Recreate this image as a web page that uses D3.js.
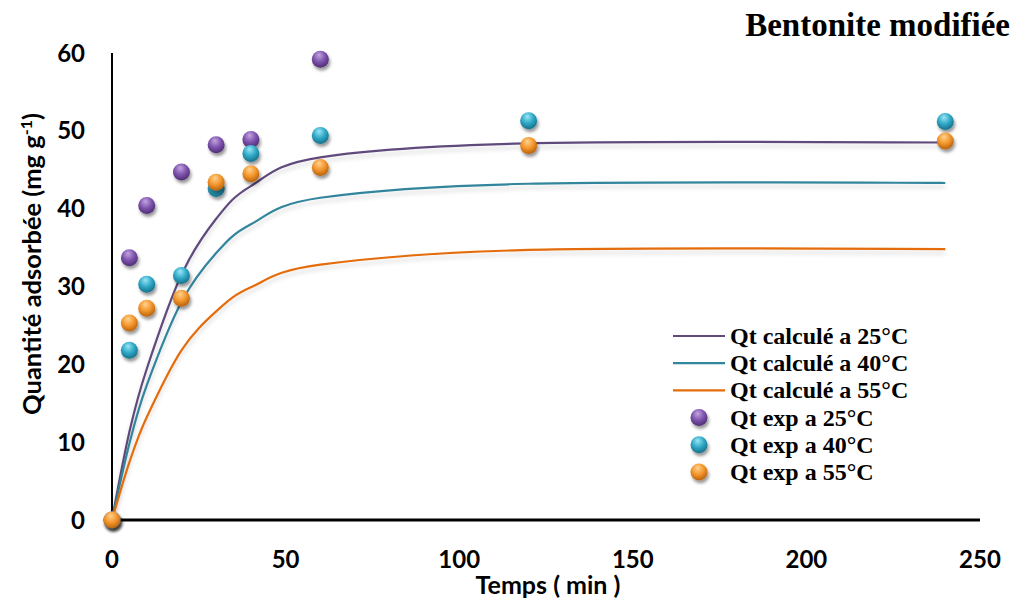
<!DOCTYPE html>
<html>
<head>
<meta charset="utf-8">
<script src="https://cdn.jsdelivr.net/npm/d3@7"></script>
<style>
  body { margin: 0; background: #fff; }
  svg { display: block; }
  .tick-label { font-family: Lato, "Open Sans", sans-serif; font-weight: 700; font-size: 24px; fill: #000; }
  .axis-title { font-family: Lato, "Open Sans", sans-serif; font-weight: 700; font-size: 25.5px; fill: #000; }
  .legend-text { font-family: "Liberation Serif", "Times New Roman", serif; font-weight: 700; font-size: 24px; fill: #000; }
  .title { font-family: "Liberation Serif", "Times New Roman", serif; font-weight: 700; font-size: 33px; fill: #000; }
</style>
</head>
<body>
<div id="chart"></div>
<script>
// data
const times = [0, 5, 10, 20, 30, 40, 60, 120, 240];

// calculated curves
const calc25 = [0, 11.3, 19.4, 31.5, 38.7, 42.9, 46.6, 48.4, 48.5];
const calc40 = [0, 9.8, 17.3, 28.0, 34.3, 38.0, 41.4, 43.2, 43.3];
const calc55 = [0, 7.4, 13.2, 21.8, 26.8, 29.9, 32.8, 34.7, 34.8];

// experimental points (null = not visible)
const exp25 = [0, 33.7, 40.4, 44.7, 48.2, 48.9, 59.2, null, null];
const exp40 = [0, 21.8, 30.3, 31.4, 42.6, 47.1, 49.4, 51.3, 51.2];
const exp55 = [0, 25.3, 27.2, 28.5, 43.4, 44.5, 45.3, 48.1, 48.7];

const xTicks = [0, 50, 100, 150, 200, 250];
const yTicks = [0, 10, 20, 30, 40, 50, 60];

const lineSeries = [
  { name: "Qt calculé a 25°C", values: calc25, color: "#604A7B" },
  { name: "Qt calculé a 40°C", values: calc40, color: "#31859C" },
  { name: "Qt calculé a 55°C", values: calc55, color: "#E46C0A" },
];
const pointSeries = [
  { name: "Qt exp a 25°C", values: exp25, id: "ball25", light: "#c3a6e0", base: "#7e53ad", dark: "#4e2d74" },
  { name: "Qt exp a 40°C", values: exp40, id: "ball40", light: "#9ae6f6", base: "#2fa8c6", dark: "#17708a" },
  { name: "Qt exp a 55°C", values: exp55, id: "ball55", light: "#ffd391", base: "#f3962c", dark: "#b8620e" },
];

////////////////////////////  Init  ///////////////////////////////
const width = 1015;
const height = 601;
const margin = { top: 53, right: 35, bottom: 81, left: 112 };

const svg = d3.select("#chart").append("svg")
  .attr("width", width)
  .attr("height", height);

const defs = svg.append("defs");

// shadows
const ballShadow = defs.append("filter").attr("id", "ballShadow")
  .attr("x", "-50%").attr("y", "-50%").attr("width", "200%").attr("height", "200%");
ballShadow.append("feDropShadow")
  .attr("dx", 1.5).attr("dy", 3).attr("stdDeviation", 1.8)
  .attr("flood-color", "#000").attr("flood-opacity", 0.4);

const lineShadow = defs.append("filter").attr("id", "lineShadow")
  .attr("x", "-5%").attr("y", "-20%").attr("width", "110%").attr("height", "140%");
lineShadow.append("feDropShadow")
  .attr("dx", 0).attr("dy", 4).attr("stdDeviation", 2)
  .attr("flood-color", "#000").attr("flood-opacity", 0.15);

// 3d ball gradients
pointSeries.forEach((s) => {
  const grad = defs.append("radialGradient").attr("id", s.id)
    .attr("cx", "45%").attr("cy", "35%").attr("r", "65%")
    .attr("fx", "42%").attr("fy", "25%");
  grad.append("stop").attr("offset", "0%").attr("stop-color", s.light);
  grad.append("stop").attr("offset", "55%").attr("stop-color", s.base);
  grad.append("stop").attr("offset", "100%").attr("stop-color", s.dark);
});

// scales
const x = d3.scaleLinear().domain([0, 250]).range([margin.left, width - margin.right]);
const y = d3.scaleLinear().domain([0, 60]).range([height - margin.bottom, margin.top]);

//axis lines
svg.append("line")
  .attr("x1", x(0)).attr("x2", x(0))
  .attr("y1", y(60)).attr("y2", y(0))
  .attr("stroke", "#000").attr("stroke-width", 2);

svg.append("line")
  .attr("x1", x(0) - 1).attr("x2", x(250))
  .attr("y1", y(0)).attr("y2", y(0))
  .attr("stroke", "#000").attr("stroke-width", 3);

// tick labels
svg.selectAll(".ytick")
  .data(yTicks)
  .enter()
  .append("text")
  .attr("class", "tick-label")
  .attr("x", 85)
  .attr("y", (d) => y(d))
  .attr("dy", "0.36em")
  .attr("text-anchor", "end")
  .text((d) => d);

svg.selectAll(".xtick")
  .data(xTicks)
  .enter()
  .append("text")
  .attr("class", "tick-label")
  .attr("x", (d) => x(d))
  .attr("y", 568)
  .attr("text-anchor", "middle")
  .text((d) => d);

// axis titles
svg.append("text")
  .attr("class", "axis-title")
  .attr("x", 548)
  .attr("y", 594)
  .attr("text-anchor", "middle")
  .style("font-size", "25px")
  .text("Temps ( min )");

const yTitle = svg.append("text")
  .attr("class", "axis-title")
  .attr("transform", "translate(41, 264) rotate(-90)")
  .attr("text-anchor", "middle");
yTitle.append("tspan").text("Quantité adsorbée (mg g");
yTitle.append("tspan").attr("dy", -9).attr("font-size", 16).text("-1");
yTitle.append("tspan").attr("dy", 9).text(")");

// title
svg.append("text")
  .attr("class", "title")
  .attr("x", 1010)
  .attr("y", 36)
  .attr("text-anchor", "end")
  .text("Bentonite modifiée");

// calculated lines
const line = d3.line()
  .x((d) => x(d[0]))
  .y((d) => y(d[1]))
  .curve(d3.curveCardinal.tension(0));

svg.append("g")
  .selectAll("path")
  .data(lineSeries)
  .enter()
  .append("path")
  .attr("d", (s) => line(times.map((t, i) => [t, s.values[i]])))
  .attr("fill", "none")
  .attr("stroke", (s) => s.color)
  .attr("stroke-width", 2.2)
  .attr("filter", "url(#lineShadow)");

// experimental points
const r = 8.5;
pointSeries.forEach((s) => {
  const pts = times.map((t, i) => [t, s.values[i]]).filter((d) => d[1] !== null);
  svg.append("g")
    .selectAll("circle")
    .data(pts)
    .enter()
    .append("circle")
    .attr("cx", (d) => x(d[0]))
    .attr("cy", (d) => y(d[1]))
    .attr("r", r)
    .attr("fill", `url(#${s.id})`)
    .attr("filter", "url(#ballShadow)");
});

// legend
const legend = svg.append("g");
const rowY = (i) => 336 + i * 27.2;

lineSeries.forEach((s, i) => {
  legend.append("line")
    .attr("x1", 673).attr("x2", 725)
    .attr("y1", rowY(i)).attr("y2", rowY(i))
    .attr("stroke", s.color).attr("stroke-width", 2.2);
  legend.append("text")
    .attr("class", "legend-text")
    .attr("x", 730).attr("y", rowY(i) + 8)
    .text(s.name);
});

pointSeries.forEach((s, j) => {
  const i = j + 3;
  legend.append("circle")
    .attr("cx", 699).attr("cy", rowY(i))
    .attr("r", r)
    .attr("fill", `url(#${s.id})`)
    .attr("filter", "url(#ballShadow)");
  legend.append("text")
    .attr("class", "legend-text")
    .attr("x", 730).attr("y", rowY(i) + 8)
    .text(s.name);
});
</script>
</body>
</html>
